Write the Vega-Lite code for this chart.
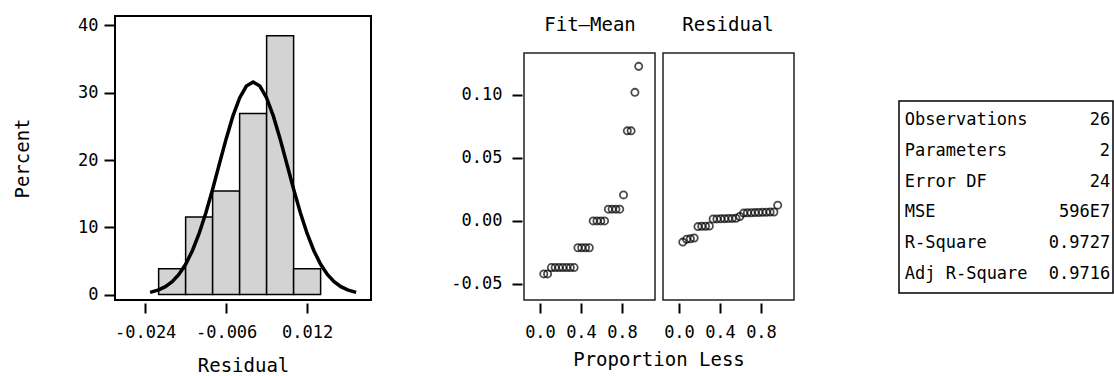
{
  "$schema": "https://vega.github.io/schema/vega-lite/v6.json",
  "padding": {"left": 12, "top": 15, "right": 0, "bottom": 0},
  "background": "white",
  "config": {
    "locale": {"number": {"decimal": ".", "thousands": ",", "grouping": [3], "currency": ["$", ""], "minus": "-"}},
    "view": {"stroke": "#222", "strokeWidth": 1.5},
    "axis": {
      "domain": false, "grid": false, "ticks": true,
      "tickColor": "#000", "tickWidth": 2, "tickSize": 10,
      "labelFont": "DejaVu Sans Mono", "labelFontSize": 17, "labelColor": "#000",
      "labelFlush": false, "labelOverlap": false,
      "titleFont": "DejaVu Sans Mono", "titleFontSize": 19, "titleFontWeight": "normal", "titleColor": "#000"
    },
    "header": {"labelFont": "DejaVu Sans Mono", "labelFontSize": 19, "labelColor": "#000",
               "titleFont": "DejaVu Sans Mono", "titleFontSize": 19, "titleFontWeight": "normal", "titleColor": "#000"}
  },
  "spacing": 103,
  "hconcat": [
    {
      "spacing": 78,
      "hconcat": [
        {
          "width": 256,
          "height": 284,
          "view": {"stroke": "#000", "strokeWidth": 2},
          "layer": [
            {
              "data": {"values": [
                {"lo": -0.021, "hi": -0.015, "pct": 3.846},
                {"lo": -0.015, "hi": -0.009, "pct": 11.538},
                {"lo": -0.009, "hi": -0.003, "pct": 15.385},
                {"lo": -0.003, "hi": 0.003, "pct": 26.923},
                {"lo": 0.003, "hi": 0.009, "pct": 38.462},
                {"lo": 0.009, "hi": 0.015, "pct": 3.846}
              ]},
              "mark": {"type": "rect", "fill": "#d3d3d3", "stroke": "#000", "strokeWidth": 1.5},
              "encoding": {
                "x": {"field": "lo", "type": "quantitative", "title": "Residual",
                      "scale": {"domain": [-0.0307, 0.0262], "nice": false, "zero": false},
                      "axis": {"values": [-0.024, -0.006, 0.012], "format": ".3f", "offset": 3, "labelPadding": 11, "titlePadding": 16}},
                "x2": {"field": "hi"},
                "y": {"field": "pct", "type": "quantitative", "title": "Percent",
                      "scale": {"domain": [-0.8, 41.4], "nice": false, "zero": false},
                      "axis": {"values": [0, 10, 20, 30, 40], "format": "d", "offset": 1, "labelPadding": 6, "titlePadding": 45}},
                "y2": {"datum": 0}
              }
            },
            {
              "data": {"values": [
                {"res": -0.0229, "pct": 0.34},
                {"res": -0.0225, "pct": 0.40},
                {"res": -0.021, "pct": 0.70},
                {"res": -0.0195, "pct": 1.18},
                {"res": -0.018, "pct": 1.91},
                {"res": -0.0165, "pct": 2.99},
                {"res": -0.015, "pct": 4.51},
                {"res": -0.0135, "pct": 6.53},
                {"res": -0.012, "pct": 9.09},
                {"res": -0.0105, "pct": 12.17},
                {"res": -0.009, "pct": 15.67},
                {"res": -0.0075, "pct": 19.42},
                {"res": -0.006, "pct": 23.14},
                {"res": -0.0045, "pct": 26.52},
                {"res": -0.003, "pct": 29.23},
                {"res": -0.0015, "pct": 30.99},
                {"res": 0.0, "pct": 31.6},
                {"res": 0.0015, "pct": 30.99},
                {"res": 0.003, "pct": 29.23},
                {"res": 0.0045, "pct": 26.52},
                {"res": 0.006, "pct": 23.14},
                {"res": 0.0075, "pct": 19.42},
                {"res": 0.009, "pct": 15.67},
                {"res": 0.0105, "pct": 12.17},
                {"res": 0.012, "pct": 9.09},
                {"res": 0.0135, "pct": 6.53},
                {"res": 0.015, "pct": 4.51},
                {"res": 0.0165, "pct": 2.99},
                {"res": 0.018, "pct": 1.91},
                {"res": 0.0195, "pct": 1.18},
                {"res": 0.021, "pct": 0.70},
                {"res": 0.0225, "pct": 0.40},
                {"res": 0.0229, "pct": 0.34}
              ]},
              "mark": {"type": "line", "stroke": "#000", "strokeWidth": 3.5},
              "encoding": {
                "x": {"field": "res", "type": "quantitative", "title": "Residual"},
                "y": {"field": "pct", "type": "quantitative", "title": "Percent"}
              }
            }
          ]
        },
        {
          "spacing": 17,
          "vconcat": [
            {
              "width": 270,
              "height": 17,
              "view": {"stroke": null},
              "data": {"values": [{"panel": "Fit–Mean"}, {"panel": "Residual"}]},
              "mark": {"type": "text", "font": "DejaVu Sans Mono", "fontSize": 19, "baseline": "middle", "align": "center", "color": "#000"},
              "encoding": {
                "x": {"field": "panel", "type": "nominal", "sort": null, "scale": {"type": "band", "paddingInner": 0.0435, "paddingOuter": 0}, "axis": null},
                "text": {"field": "panel"}
              }
            },
            {
              "data": {"values": [
                {"panel": "Fit–Mean", "prop": 0.037, "value": -0.042},
                {"panel": "Fit–Mean", "prop": 0.074, "value": -0.042},
                {"panel": "Fit–Mean", "prop": 0.111, "value": -0.037},
                {"panel": "Fit–Mean", "prop": 0.148, "value": -0.037},
                {"panel": "Fit–Mean", "prop": 0.185, "value": -0.037},
                {"panel": "Fit–Mean", "prop": 0.222, "value": -0.037},
                {"panel": "Fit–Mean", "prop": 0.259, "value": -0.037},
                {"panel": "Fit–Mean", "prop": 0.296, "value": -0.037},
                {"panel": "Fit–Mean", "prop": 0.333, "value": -0.037},
                {"panel": "Fit–Mean", "prop": 0.370, "value": -0.0213},
                {"panel": "Fit–Mean", "prop": 0.407, "value": -0.0213},
                {"panel": "Fit–Mean", "prop": 0.444, "value": -0.0213},
                {"panel": "Fit–Mean", "prop": 0.481, "value": -0.0213},
                {"panel": "Fit–Mean", "prop": 0.519, "value": 0.0},
                {"panel": "Fit–Mean", "prop": 0.556, "value": 0.0},
                {"panel": "Fit–Mean", "prop": 0.593, "value": 0.0},
                {"panel": "Fit–Mean", "prop": 0.630, "value": 0.0},
                {"panel": "Fit–Mean", "prop": 0.667, "value": 0.0093},
                {"panel": "Fit–Mean", "prop": 0.704, "value": 0.0093},
                {"panel": "Fit–Mean", "prop": 0.741, "value": 0.0093},
                {"panel": "Fit–Mean", "prop": 0.778, "value": 0.0093},
                {"panel": "Fit–Mean", "prop": 0.815, "value": 0.0206},
                {"panel": "Fit–Mean", "prop": 0.852, "value": 0.0714},
                {"panel": "Fit–Mean", "prop": 0.889, "value": 0.0714},
                {"panel": "Fit–Mean", "prop": 0.926, "value": 0.1019},
                {"panel": "Fit–Mean", "prop": 0.963, "value": 0.1225},
                {"panel": "Residual", "prop": 0.037, "value": -0.0168},
                {"panel": "Residual", "prop": 0.074, "value": -0.0146},
                {"panel": "Residual", "prop": 0.111, "value": -0.0141},
                {"panel": "Residual", "prop": 0.148, "value": -0.0136},
                {"panel": "Residual", "prop": 0.185, "value": -0.0045},
                {"panel": "Residual", "prop": 0.222, "value": -0.0043},
                {"panel": "Residual", "prop": 0.259, "value": -0.0042},
                {"panel": "Residual", "prop": 0.296, "value": -0.0041},
                {"panel": "Residual", "prop": 0.333, "value": 0.0015},
                {"panel": "Residual", "prop": 0.370, "value": 0.0016},
                {"panel": "Residual", "prop": 0.407, "value": 0.0017},
                {"panel": "Residual", "prop": 0.444, "value": 0.0018},
                {"panel": "Residual", "prop": 0.481, "value": 0.0019},
                {"panel": "Residual", "prop": 0.519, "value": 0.0020},
                {"panel": "Residual", "prop": 0.556, "value": 0.0021},
                {"panel": "Residual", "prop": 0.593, "value": 0.0035},
                {"panel": "Residual", "prop": 0.630, "value": 0.0062},
                {"panel": "Residual", "prop": 0.667, "value": 0.0064},
                {"panel": "Residual", "prop": 0.704, "value": 0.0065},
                {"panel": "Residual", "prop": 0.741, "value": 0.0066},
                {"panel": "Residual", "prop": 0.778, "value": 0.0067},
                {"panel": "Residual", "prop": 0.815, "value": 0.0068},
                {"panel": "Residual", "prop": 0.852, "value": 0.0069},
                {"panel": "Residual", "prop": 0.889, "value": 0.0070},
                {"panel": "Residual", "prop": 0.926, "value": 0.0071},
                {"panel": "Residual", "prop": 0.963, "value": 0.0125}
              ]},
              "facet": {
                "column": {"field": "panel", "type": "nominal", "sort": ["Fit–Mean", "Residual"], "title": "Proportion Less",
                           "header": {"labels": false, "titleOrient": "bottom", "titlePadding": 1}}
              },
              "spacing": 6,
              "spec": {
                "width": 131,
                "height": 247,
                "mark": {"type": "point", "shape": "circle", "filled": false, "stroke": "#000", "strokeWidth": 1.8, "size": 52},
                "encoding": {
                  "x": {"field": "prop", "type": "quantitative", "title": null,
                        "scale": {"domain": [-0.156, 1.122], "nice": false, "zero": false},
                        "axis": {"values": [0, 0.4, 0.8], "format": ".1f", "offset": 2, "labelPadding": 11}},
                  "y": {"field": "value", "type": "quantitative", "title": null,
                        "scale": {"domain": [-0.0627, 0.1331], "nice": false, "zero": false},
                        "axis": {"values": [-0.05, 0, 0.05, 0.1], "format": ".2f", "offset": 1, "labelPadding": 10}}
                }
              }
            }
          ]
        }
      ]
    },
    {
      "spacing": 44,
      "vconcat": [
        {
          "width": 214,
          "height": 40,
          "view": {"stroke": null},
          "data": {"values": []},
          "mark": {"type": "text"},
          "encoding": {}
        },
        {
          "width": 214,
          "height": 192,
          "view": {"stroke": "#000", "strokeWidth": 1.5},
          "data": {"values": [
            {"stat": "Observations", "val": "26"},
            {"stat": "Parameters", "val": "2"},
            {"stat": "Error DF", "val": "24"},
            {"stat": "MSE", "val": "596E7"},
            {"stat": "R-Square", "val": "0.9727"},
            {"stat": "Adj R-Square", "val": "0.9716"}
          ]},
          "encoding": {
            "y": {"field": "stat", "type": "nominal", "sort": null, "scale": {"type": "point", "padding": 0.6}, "axis": null}
          },
          "layer": [
            {
              "mark": {"type": "text", "align": "left", "baseline": "middle", "font": "DejaVu Sans Mono", "fontSize": 17, "color": "#000"},
              "encoding": {
                "x": {"datum": 0, "type": "quantitative", "scale": {"domain": [-0.028, 1.014], "nice": false, "zero": false}, "axis": null},
                "text": {"field": "stat"}
              }
            },
            {
              "mark": {"type": "text", "align": "right", "baseline": "middle", "font": "DejaVu Sans Mono", "fontSize": 17, "color": "#000"},
              "encoding": {
                "x": {"datum": 1, "type": "quantitative"},
                "text": {"field": "val"}
              }
            }
          ]
        }
      ]
    }
  ]
}
